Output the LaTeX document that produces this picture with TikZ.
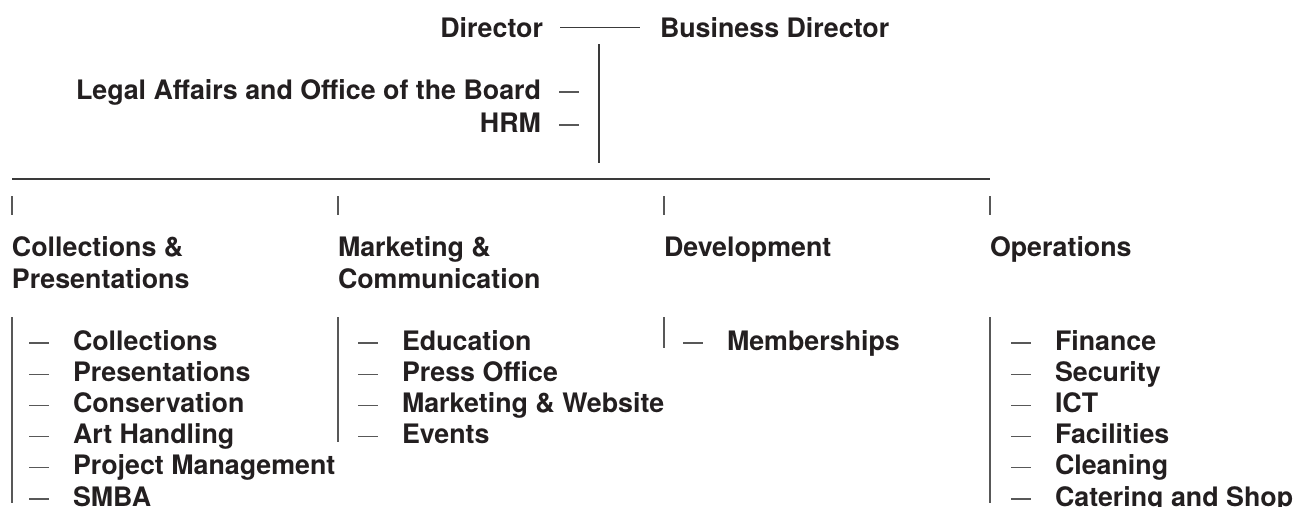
\documentclass[tikz,border=0pt]{standalone}
\usepackage{fontspec}
\setmainfont{TeX Gyre Heros}
\usetikzlibrary{calc}
\definecolor{ink}{HTML}{231F20}
\definecolor{rulec}{HTML}{3A3A3A}
\begin{document}
\begin{tikzpicture}[x=1pt,y=-1pt,
  lbl/.style={inner sep=0pt, outer sep=0pt, text=ink, font=\bfseries\fontsize{26.8}{32}\selectfont},
  ln/.style={draw=rulec, line width=1.2pt},
  tk/.style={draw=rulec!85, line width=1.1pt}]
\useasboundingbox (0,0) rectangle (1295,506);

% top level
\node[lbl, anchor=base east] (dir) at (543,37) {Director};
\node[lbl, anchor=base west] (bdir) at (660,37) {Business Director};
\draw[ln] ([xshift=17pt]dir.east) -- ([xshift=-20pt]bdir.west);
\coordinate (vtop) at (599,44);
\coordinate (vbot) at (599,163);
\draw[ln] (vtop) -- (vbot);

\node[lbl, anchor=base east] (legal) at (541,99) {Legal Affairs and Office of the Board};
\node[lbl, anchor=base east] (hrm) at (541,132) {HRM};
\draw[tk] ($(legal.base east)+(18,-7)$) -- ++(20,0);
\draw[tk] ($(hrm.base east)+(18,-7)$) -- ++(20,0);

% long horizontal line
\coordinate (hl) at (12,179);
\coordinate (hr) at (990,179);
\draw[ln] (hl) -- (hr);

% headers
\node[lbl, anchor=base west] (h1) at (12,256) {\begin{tabular}[t]{@{}l@{}}Collections \&\\Presentations\end{tabular}};
\node[lbl, anchor=base west] (h2) at (338,256) {\begin{tabular}[t]{@{}l@{}}Marketing \&\\Communication\end{tabular}};
\node[lbl, anchor=base west] (h3) at (664,256) {Development};
\node[lbl, anchor=base west] (h4) at (990,256) {Operations};
\foreach \h in {h1,h2,h3,h4}{
  \draw[tk] ($(\h.base west)+(0,-60)$) -- ++(0,19);
}

% vertical bars
\draw[tk] (12,317) -- (12,503);
\draw[tk] (338,317) -- (338,442);
\draw[tk] (664,317) -- (664,348);
\draw[tk] (990,317) -- (990,503);

% items
\foreach \t [count=\i from 0] in {Collections,Presentations,Conservation,Art Handling,Project Management,SMBA}{
  \node[lbl, anchor=base west] (ca\i) at (73,350+31.2*\i) {\t};
  \draw[tk] ($(ca\i.base west)+(-44,-7)$) -- ++(20,0);
}
\foreach \t [count=\i from 0] in {Education,Press Office,Marketing \& Website,Events}{
  \node[lbl, anchor=base west] (mc\i) at (402,350+31.2*\i) {\t};
  \draw[tk] ($(mc\i.base west)+(-44,-7)$) -- ++(20,0);
}
\node[lbl, anchor=base west] (dv0) at (727,350) {Memberships};
\draw[tk] ($(dv0.base west)+(-44,-7)$) -- ++(20,0);
\foreach \t [count=\i from 0] in {Finance,Security,ICT,Facilities,Cleaning,Catering and Shop}{
  \node[lbl, anchor=base west] (op\i) at (1055,350+31.2*\i) {\t};
  \draw[tk] ($(op\i.base west)+(-44,-7)$) -- ++(20,0);
}
\end{tikzpicture}
\end{document}
